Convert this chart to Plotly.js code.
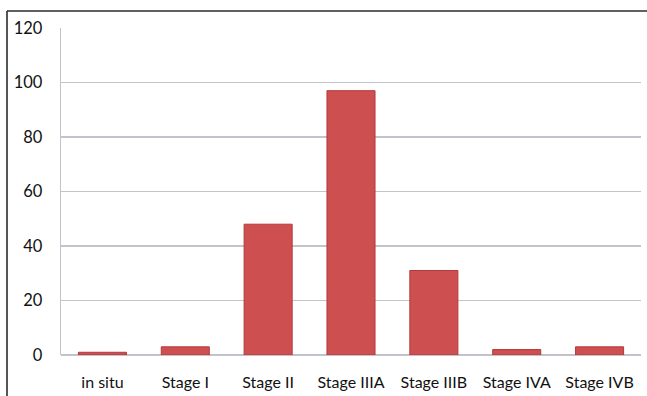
<!DOCTYPE html>
<html><head><meta charset="utf-8">
<script src="https://cdn.plot.ly/plotly-3.0.1.min.js"></script>
<style>html,body{margin:0;padding:0;background:#fff}</style>
</head><body>
<div id="chart" style="width:647px;height:396px"></div>
<script>
const categories = ["in situ", "Stage I", "Stage II", "Stage IIIA", "Stage IIIB", "Stage IVA", "Stage IVB"];
const values = [1, 3, 48, 97, 31, 2, 3];
const yTicks = [0, 20, 40, 60, 80, 100, 120];

const W = 647, H = 396, ml = 61, mr = 6, mt = 28, mb = 41;
const pw = W - ml - mr, ph = H - mt - mb;
const px = x => (x - ml) / pw;
const py = y => (H - mb - y) / ph;

const trace = {
  type: 'bar', x: categories, y: values,
  marker: {color: '#CD4F50', line: {color: '#B5383A', width: 1}},
  hoverinfo: 'skip'
};
const layout = {
  width: W, height: H,
  margin: {l: ml, r: mr, t: mt, b: mb},
  paper_bgcolor: '#fff', plot_bgcolor: '#fff',
  bargap: 0.42,
  showlegend: false,
  font: {family: 'Lato, "Open Sans", sans-serif', size: 16, color: '#111'},
  xaxis: {
    type: 'category', showgrid: false, zeroline: false,
    showline: false, ticks: 'outside', ticklen: 13, tickcolor: 'rgba(0,0,0,0)',
    tickfont: {size: 16}
  },
  yaxis: {
    range: [0, 120], tickvals: yTicks, ticktext: yTicks.map(String),
    showgrid: true, gridcolor: '#C3C3CB', gridwidth: 1.3,
    zeroline: true, zerolinecolor: '#C3C3CB', zerolinewidth: 1.3,
    showline: true, linecolor: '#C3C3CB', linewidth: 1.3,
    ticks: 'outside', ticklen: 14, tickcolor: 'rgba(0,0,0,0)',
    tickfont: {size: 16.5}
  },
  shapes: [
    {type: 'line', xref: 'paper', yref: 'paper', x0: px(7), x1: px(W + 2), y0: py(11), y1: py(11), line: {color: '#2b2b2b', width: 1.6}},
    {type: 'line', xref: 'paper', yref: 'paper', x0: px(7), x1: px(7), y0: py(11), y1: py(H + 2), line: {color: '#2b2b2b', width: 1.6}}
  ]
};
Plotly.newPlot('chart', [trace], layout, {staticPlot: true, displayModeBar: false});
</script>
</body></html>
